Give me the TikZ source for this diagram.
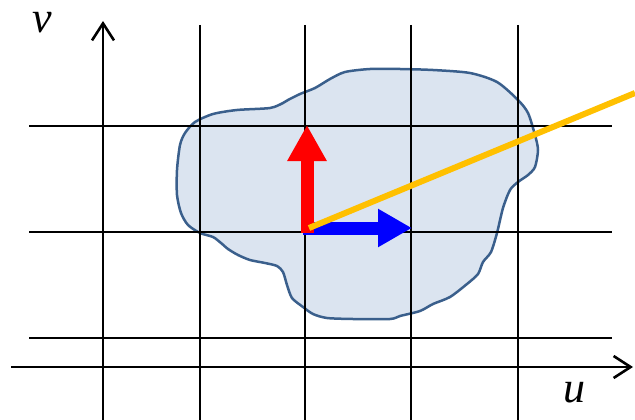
\documentclass[tikz,border=0pt]{standalone}
\usepackage{fontspec}
\setmainfont{Liberation Serif}
\usetikzlibrary{arrows.meta}
\definecolor{blobfill}{HTML}{DBE4F0}
\definecolor{blobline}{HTML}{3A5F8C}
\definecolor{raygold}{HTML}{FFC000}
\begin{document}
\begin{tikzpicture}[x=1pt,y=-1pt,
  gridline/.style={draw=black,line width=2.8pt},
  axis/.style={draw=black,line width=2.6pt,-{Straight Barb[length=17pt,width=22pt]}},
  lbl/.style={font=\fontsize{44}{44}\selectfont\itshape,inner sep=0pt,anchor=base},
  vec/.style={line width=13pt}]
  \useasboundingbox (0,0) rectangle (635,420);
  % region
  \draw[blobline,fill=blobfill,line width=2.5pt] plot[smooth cycle,tension=0.45] coordinates {
    (370,69) (400,69) (433,70) (470,73) (497,82) (518,100) (528,113) (535,135)
    (538,150) (535,167) (528,175) (518,182) (510,190) (503,208) (497,233) (491,252)
    (483,262) (478,274) (467,284) (450,297) (433,304) (420,311) (400,316) (390,319)
    (353,319) (327,318) (313,314) (303,307) (292,298) (287,285) (283,272) (277,266)
    (265,263) (250,260) (238,255) (228,249) (221,243) (213,237) (200,233) (188,225)
    (181,213) (177,195) (177,170) (180,145) (185,133) (195,122) (213,114) (237,110)
    (270,108) (283,103) (288,100) (300,94) (315,88) (330,79) (345,72)};
  % grid
  \foreach \gx in {200,305,411,518} \draw[gridline] (\gx,25) -- (\gx,420);
  \foreach \gy in {126,232,338} \draw[gridline] (29,\gy) -- (612,\gy);
  % axes
  \coordinate (ufrom) at (11,367);
  \coordinate (uto) at (633,367);
  \coordinate (vfrom) at (103,420);
  \coordinate (vto) at (103,21);
  \draw[axis] (ufrom) -- (uto);
  \draw[axis] (vfrom) -- (vto);
  \node[lbl] (ulabel) at (574,402) {u};
  \node[lbl] (vlabel) at (42,33) {v};
  % basis vectors and ray
  \coordinate (rbase) at (307,233);
  \coordinate (rtip) at (307,125);
  \coordinate (bbase) at (303,228);
  \coordinate (btip) at (412,228);
  \coordinate (gbase) at (309,228);
  \coordinate (gtip) at (635,93);
  \draw[vec,blue,-{Triangle[length=34pt,width=36pt]}] (bbase) -- (btip);
  \draw[vec,red,-{Triangle[length=36pt,width=37pt]}] (rbase) -- (rtip);
  \draw[raygold,line width=6pt] (gbase) -- (gtip);
\end{tikzpicture}
\end{document}
